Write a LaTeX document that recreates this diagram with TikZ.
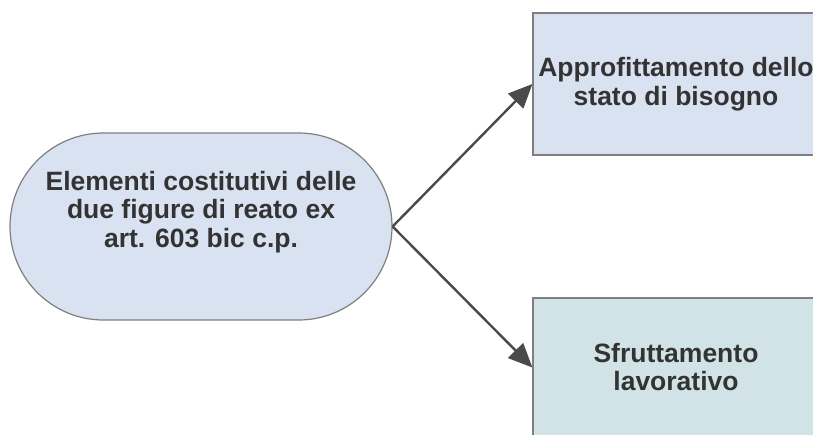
\documentclass[tikz,border=0pt]{standalone}
\usepackage{fontspec}
\setmainfont{Liberation Sans}
\usetikzlibrary{shapes.misc,arrows.meta}
\definecolor{fillA}{HTML}{D9E2F1}
\definecolor{fillB}{HTML}{D1E3E7}
\definecolor{edgeC}{HTML}{7F7F7F}
\definecolor{txtC}{HTML}{333333}
\definecolor{arrC}{HTML}{4A4A4A}
\tikzset{
  shapebox/.style={draw=edgeC,line width=1.2pt,inner sep=0pt},
  lbl/.style={text=txtC,font=\fontsize{26.5}{28.5}\selectfont\bfseries,align=center,inner sep=0pt},
  conn/.style={draw=arrC,line width=2.4pt,-{Triangle[length=24pt,width=21pt]}},
}
\begin{document}
\begin{tikzpicture}[x=1pt,y=-1pt]
\useasboundingbox (0,0) rectangle (813,434);
\fill[white] (0,0) rectangle (813,434);
\node[shapebox,rounded rectangle,fill=fillA,minimum width=382pt,minimum height=187pt] (src) at (201,226.5) {};
\node[lbl] (srct) at (201,212) {Elementi costitutivi delle\\due figure di reato ex\\art. 603 bic c.p.};
\node[shapebox,rectangle,fill=fillA,minimum width=286pt,minimum height=142pt] (top) at (676,84) {};
\node[lbl] (topt) at (676,84) {Approfittamento dello\\stato di bisogno};
\node[shapebox,rectangle,fill=fillB,minimum width=286pt,minimum height=139pt] (bot) at (676,367.5) {};
\node[lbl] (bott) at (676,367) {Sfruttamento\\lavorativo};
\draw[conn] (src.east) -- (top.west);
\draw[conn] (src.east) -- (bot.west);
\end{tikzpicture}
\end{document}
